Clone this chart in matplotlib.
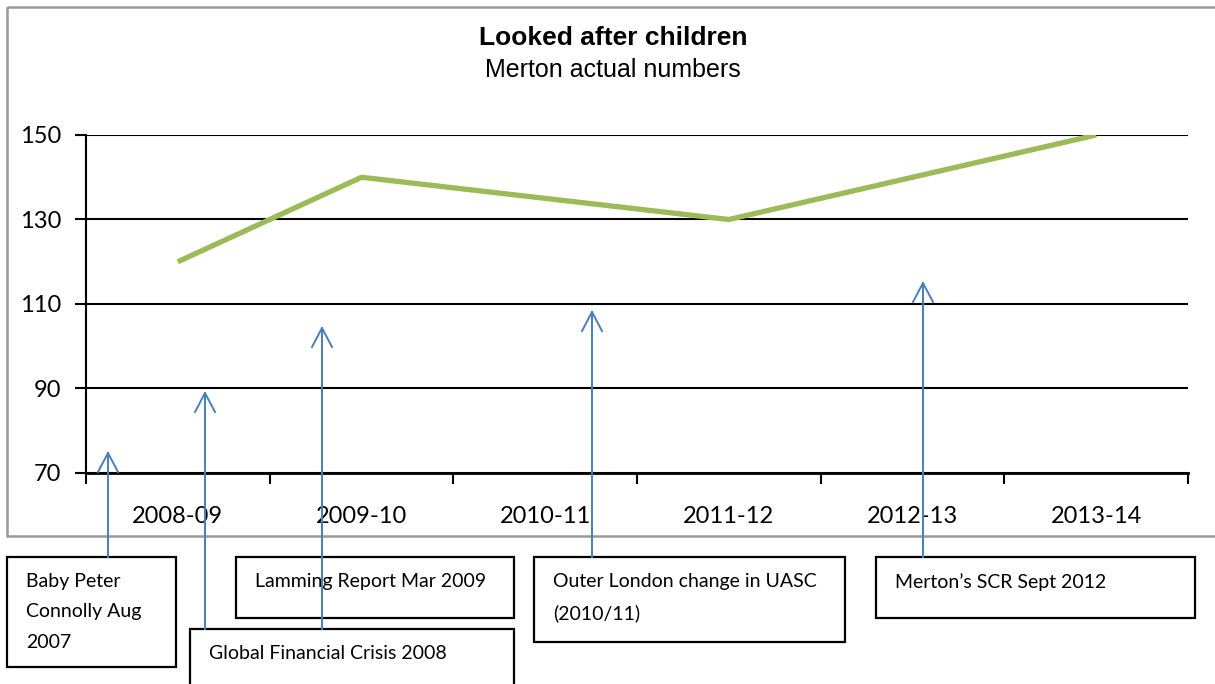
import numpy as np
import matplotlib
matplotlib.use('Agg')
from matplotlib import pyplot as plt
from matplotlib.patches import Rectangle

plt.rcParams['font.family'] = ['Lato', 'DejaVu Sans']

years = ['2008-09', '2009-10', '2010-11', '2011-12', '2012-13', '2013-14']
children = [120, 140, 135, 130, 140, 150]
yticks = [70, 90, 110, 130, 150]

events = ['Baby Peter\nConnolly Aug\n2007',
          'Global Financial Crisis 2008',
          'Lamming Report Mar 2009',
          'Outer London change in UASC\n(2010/11)',
          'Merton\u2019s SCR Sept 2012']

W, H = 1215, 684
fig = plt.figure(figsize=(W / 100, H / 100), dpi=100)

# plot area in pixels: left 86, right 1188, top 135, bottom 473
ax = fig.add_axes([86 / W, 1 - 473 / H, 1102 / W, 338 / H])
x = np.arange(len(years))
ax.plot(x, children, color='#9bbb59', lw=3.8, solid_capstyle='butt', zorder=3)
ax.set_xlim(-0.5, len(years) - 0.5)
ax.set_ylim(70, 150)
ax.set_yticks(yticks)
ax.set_yticklabels([str(v) for v in yticks], fontsize=17)
ax.set_xticks(x)
ax.set_xticklabels(years, fontsize=17)
ax.set_xticks(np.arange(-0.5, len(years)), minor=True)
ax.tick_params(axis='x', which='major', length=0, pad=24)
ax.tick_params(axis='x', which='minor', length=8, width=1.5, direction='out')
ax.tick_params(axis='y', length=8, width=1.5, direction='out', pad=10)
ax.grid(axis='y', color='black', lw=1.5)
for s in ['top', 'right']:
    ax.spines[s].set_visible(False)
ax.spines['left'].set_linewidth(1.5)
ax.spines['bottom'].set_linewidth(2)

fig.text(613 / W, 1 - 38 / H, 'Looked after children', ha='center', va='center',
         fontsize=19, fontweight='bold', family='Liberation Sans')
fig.text(613 / W, 1 - 70 / H, 'Merton actual numbers', ha='center', va='center',
         fontsize=18, family='Liberation Sans')

# overlay in pixel coordinates for frame, boxes and arrows
ov = fig.add_axes([0, 0, 1, 1], facecolor='none')
ov.set_xlim(0, W)
ov.set_ylim(H, 0)
ov.axis('off')
ov.add_patch(Rectangle((7, 7), W + 20, 529, fill=False, ec='#999999', lw=1.8))

boxes = [(7, 557, 169, 110), (190, 629, 324, 80), (236, 557, 278, 61),
         (534, 557, 311, 85), (876, 557, 319, 61)]
text_pos = [(26, 573), (209, 645), (255, 573), (553, 573), (895, 573)]
arrows = [(108, 557, 453), (205, 629, 393), (322, 629, 328),
          (592, 557, 312), (923, 557, 283)]

for (bx, by, bw, bh), (tx, ty), label in zip(boxes, text_pos, events):
    ov.add_patch(Rectangle((bx, by), bw, bh, fc='white', ec='black', lw=1.6, zorder=2))
    ov.text(tx, ty, label, fontsize=14, va='top', ha='left', linespacing=1.95, zorder=3)

for ax_x, y0, y1 in arrows:
    ov.plot([ax_x, ax_x], [y0, y1], color='#4a7ebb', lw=1.4, zorder=4)
    ov.plot([ax_x - 10, ax_x, ax_x + 10], [y1 + 19, y1, y1 + 19], color='#4a7ebb',
            lw=1.4, zorder=4)

fig.savefig('out.png', dpi=100)
